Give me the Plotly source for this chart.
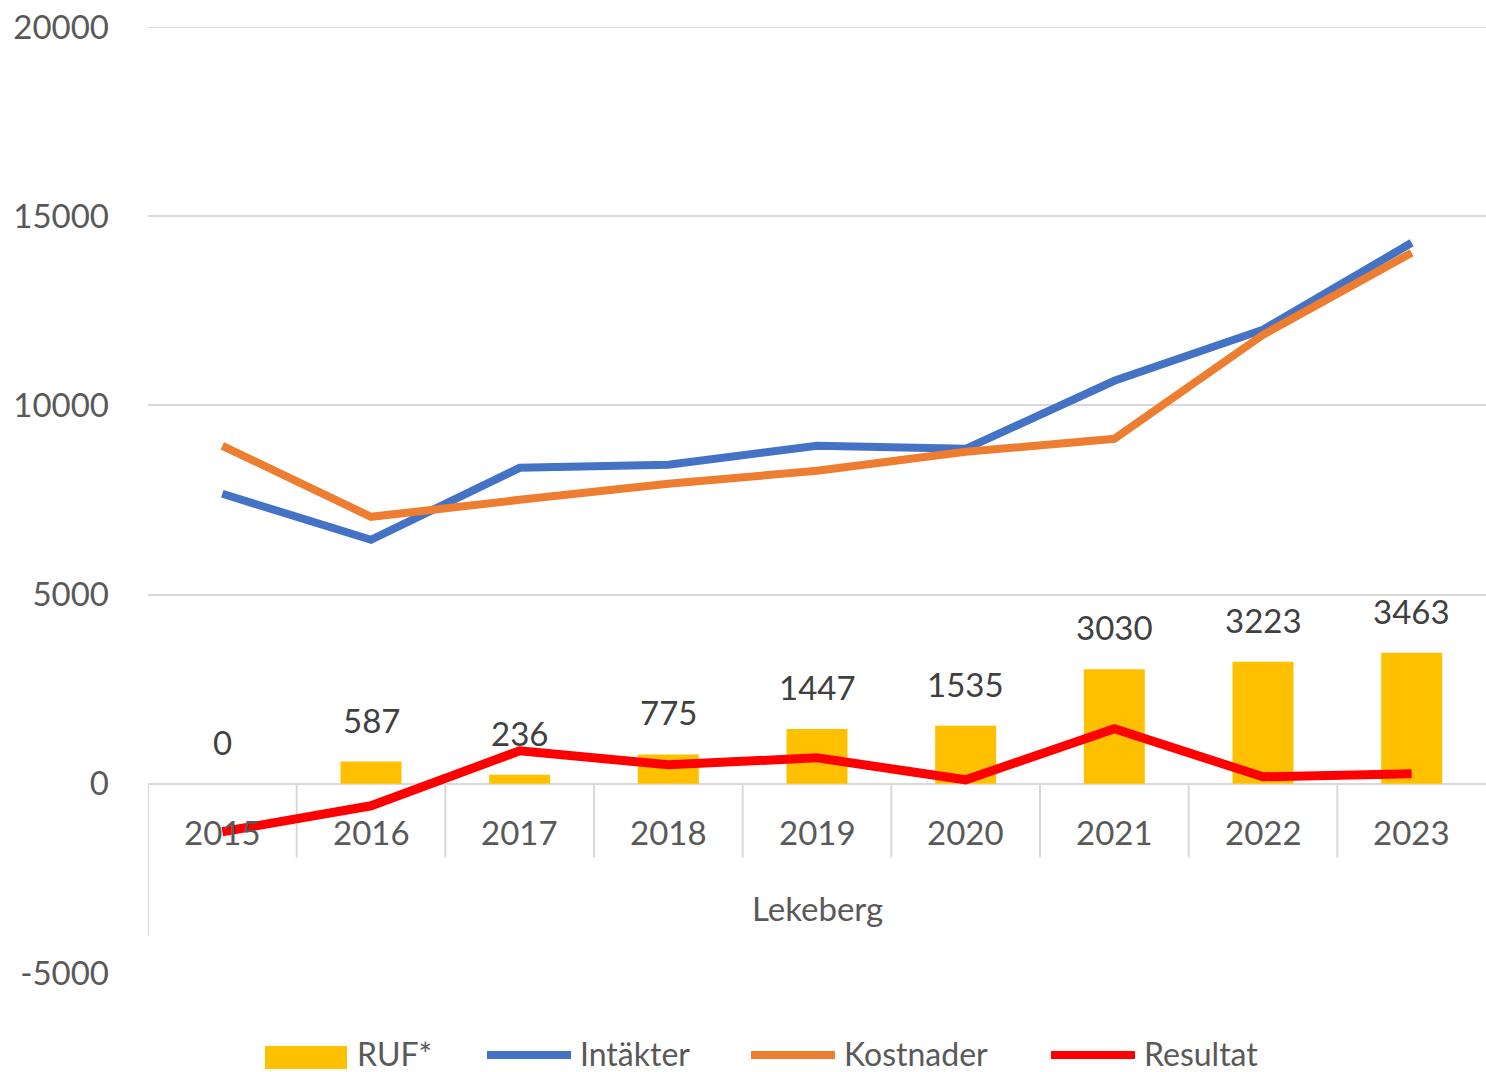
import plotly.graph_objects as go

years = ["2015", "2016", "2017", "2018", "2019", "2020", "2021", "2022", "2023"]
group_label = "Lekeberg"
ruf = [0, 587, 236, 775, 1447, 1535, 3030, 3223, 3463]
intakter = [7664, 6448, 8351, 8430, 8932, 8853, 10650, 12000, 14297]
kostnader = [8932, 7056, 7505, 7928, 8272, 8774, 9117, 11866, 14033]
resultat = [-1268, -581, 872, 502, 687, 106, 1453, 185, 264]
ytick_vals = [-5000, 0, 5000, 10000, 15000, 20000]
ytick_text = ["-5000", "0", "5000", "10000", "15000", "20000"]
series_names = ["RUF*", "Intäkter", "Kostnader", "Resultat"]
series_colors = ["#FFC000", "#4472C4", "#ED7D31", "#FF0000"]

FONT = "Lato"
GRID = "#d9d9d9"
TXT = "#595959"

W, H = 1486, 1072
# plot area in page pixels
L, R, T, B = 148, 1486, 27, 973
def px(x):  # page x -> paper
    return (x - L) / (R - L)
def py(y):  # page y -> paper
    return (B - y) / (B - T)

idx = list(range(len(years)))

fig = go.Figure()
fig.add_trace(go.Bar(x=idx, y=ruf, name=series_names[0],
                     marker=dict(color=series_colors[0], line=dict(width=0)), width=0.41))
fig.add_trace(go.Scatter(x=idx, y=intakter, name=series_names[1], mode="lines",
                         line=dict(color=series_colors[1], width=8)))
fig.add_trace(go.Scatter(x=idx, y=kostnader, name=series_names[2], mode="lines",
                         line=dict(color=series_colors[2], width=8)))
fig.add_trace(go.Scatter(x=idx, y=resultat, name=series_names[3], mode="lines",
                         line=dict(color=series_colors[3], width=9)))

annotations = []
for i, v in zip(idx, ruf):
    annotations.append(dict(x=i, y=v, xref="x", yref="y", text=str(v), showarrow=False,
                            yshift=42, font=dict(family=FONT, size=33, color="#404040")))
for i, yr in zip(idx, years):
    annotations.append(dict(x=i, y=0, xref="x", yref="y", text=yr, showarrow=False,
                            yshift=-48, font=dict(family=FONT, size=33, color=TXT)))
annotations.append(dict(x=4, y=0, xref="x", yref="y", text=group_label, showarrow=False,
                        yshift=-124, font=dict(family=FONT, size=33, color=TXT)))

shapes = [dict(type="line", xref="x", yref="y", x0=-0.5, x1=-0.5, y0=0, y1=-4000,
               line=dict(color=GRID, width=2), layer="below"),
          dict(type="line", xref="paper", yref="y", x0=0, x1=1, y0=20000, y1=20000,
               line=dict(color=GRID, width=2), layer="below")]
for i in range(len(years) - 1):
    shapes.append(dict(type="line", xref="x", yref="y", x0=i + 0.5, x1=i + 0.5, y0=0, y1=-1950,
                       line=dict(color=GRID, width=2), layer="below"))

# manual legend (positions in page pixels)
leg_y = py(1055)
txt_y = py(1053)
shapes.append(dict(type="rect", xref="paper", yref="paper", x0=px(265), x1=px(347),
                   y0=py(1069), y1=py(1046), fillcolor=series_colors[0], line=dict(width=0)))
annotations.append(dict(x=px(355), y=txt_y, xref="paper", yref="paper", text=series_names[0],
                        showarrow=False, xanchor="left", yanchor="middle",
                        font=dict(family=FONT, size=32, color=TXT)))
leg_lines = [(487, 571, 578), (751, 835, 842), (1051, 1135, 1142)]
for (a, b, t), name, col in zip(leg_lines, series_names[1:], series_colors[1:]):
    shapes.append(dict(type="line", xref="paper", yref="paper", x0=px(a), x1=px(b),
                       y0=leg_y, y1=leg_y, line=dict(color=col, width=8)))
    annotations.append(dict(x=px(t), y=txt_y, xref="paper", yref="paper", text=name,
                            showarrow=False, xanchor="left", yanchor="middle",
                            font=dict(family=FONT, size=32, color=TXT)))

fig.update_layout(
    width=W, height=H,
    margin=dict(l=L, r=W - R, t=T, b=H - B, autoexpand=False),
    paper_bgcolor="white", plot_bgcolor="white",
    font=dict(family=FONT, size=33, color=TXT),
    showlegend=False,
    hovermode=False,
    xaxis=dict(range=[-0.5, 8.5], showticklabels=False, showgrid=False,
               zeroline=False, showline=False, fixedrange=True),
    yaxis=dict(range=[-5000, 20000], tickvals=ytick_vals, ticktext=ytick_text,
               showgrid=True, gridcolor=GRID, gridwidth=2, zeroline=True, zerolinecolor=GRID,
               zerolinewidth=2, showline=False, ticks="", ticklabelstandoff=38,
               ticklabeloverflow="allow", fixedrange=True,
               automargin=False, tickfont=dict(family=FONT, size=33, color=TXT)),
    annotations=annotations,
    shapes=shapes,
)

fig.write_html("out.html", config={"displayModeBar": False, "staticPlot": True},
               post_script="document.body.style.margin='0';document.body.style.overflow='hidden';")
